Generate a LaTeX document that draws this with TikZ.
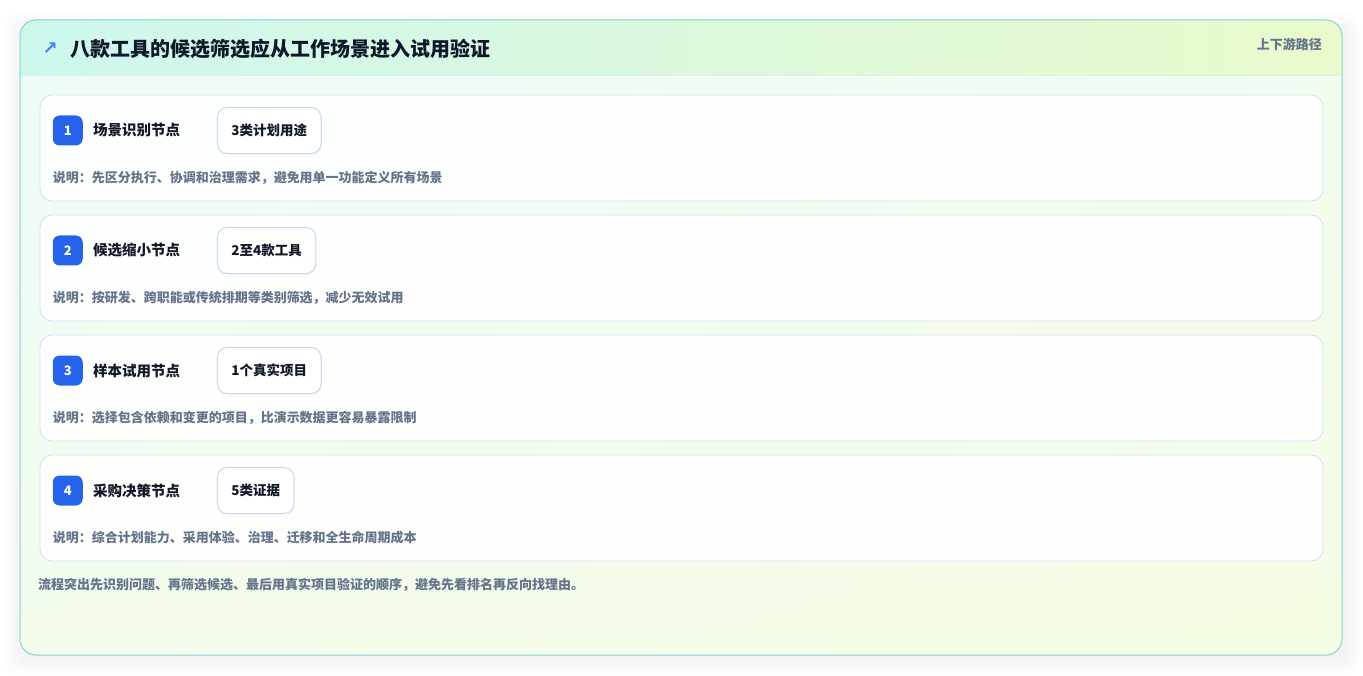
\documentclass[tikz,border=0pt]{standalone}
\usepackage{fontspec}
\setmainfont{Noto Sans CJK SC}
\newfontfamily\symfont{DejaVu Sans}
\usetikzlibrary{positioning,shadows,shadings}

\definecolor{panelline}{HTML}{7FD8CC}
\definecolor{headA}{HTML}{CDF7EE}
\definecolor{headB}{HTML}{EAFACC}
\definecolor{headline}{HTML}{D8EEF0}
\definecolor{bodyA}{HTML}{EEFBF9}
\definecolor{bodyB}{HTML}{F6FDE4}
\definecolor{cardline}{HTML}{D3E3F4}
\definecolor{pillline}{HTML}{C2D4F0}
\definecolor{badgeblue}{HTML}{2563EB}
\definecolor{arrowblue}{HTML}{3B82F6}
\definecolor{titletext}{HTML}{0F172A}
\definecolor{labeltext}{HTML}{111827}
\definecolor{desctext}{HTML}{64748B}

\begin{document}
\begin{tikzpicture}[x=1pt,y=-1pt,
  panel/.style={draw=panelline, line width=1pt, rounded corners=16pt},
  card/.style={draw=cardline, line width=0.9pt, fill=white, fill opacity=0.93, text opacity=1, rounded corners=12pt,
    minimum width=1283pt, minimum height=106pt, inner sep=0pt},
  badge/.style={fill=badgeblue, rounded corners=7pt, minimum size=30pt, inner sep=0pt,
    text=white, font=\bfseries\fontsize{13}{13}\selectfont},
  steplabel/.style={inner sep=0pt, text=labeltext, font=\bfseries\fontsize{14.5}{15}\selectfont},
  pill/.style={draw=pillline, line width=0.9pt, fill=white, rounded corners=10pt, minimum height=46pt, inner xsep=14pt,
    drop shadow={opacity=0.05, shadow xshift=0pt, shadow yshift=-3pt},
    text=labeltext, font=\bfseries\fontsize{13.5}{14}\selectfont},
  desc/.style={inner sep=0pt, anchor=west, text=desctext, font=\bfseries\fontsize{13}{14}\selectfont},
]
\useasboundingbox (0,0) rectangle (1363,676);

% soft shadow of the panel
\foreach \s in {20,17,...,2}
  \fill[black, opacity=0.006, rounded corners=18pt] (20-\s+4,20-\s+12) rectangle (1342+\s,655+\s);

% panel body and header band
\begin{scope}
  \clip[rounded corners=16pt] (20,20) rectangle (1342,655);
  \fill[white] (20,20) rectangle (1342,655);
  \shade[upper left=bodyA, upper right=bodyA!60!bodyB, lower left=bodyA!40!bodyB, lower right=bodyB]
    (20,20) rectangle (1342,655);
  \shade[left color=headA, right color=headB] (20,20) rectangle (1342,75);
  \draw[headline] (20,75) -- (1342,75);
\end{scope}
\draw[panel] (20,20) rectangle (1342,655);

% header
\node[anchor=west, inner sep=0pt, text=titletext, font=\bfseries\fontsize{20}{20}\selectfont] (title) at (70,49)
  {八款工具的候选筛选应从工作场景进入试用验证};
\node[left=12pt of title, inner sep=0pt, text=arrowblue, font=\symfont\bfseries\fontsize{18}{18}\selectfont] (icon) {↗};
\node[anchor=east, inner sep=0pt, text=desctext, font=\bfseries\fontsize{13}{13}\selectfont] (route) at (1322,44) {上下游路径};

% step 1
\node[card] (card1) at (681.5,148) {};
\node[badge, right=13pt of card1.west, yshift=17.5pt] (num1) {1};
\node[steplabel, right=10pt of num1] (lab1) {场景识别节点};
\node[pill, right=134pt of num1] (pill1) {3类计划用途};
\node[desc] (desc1) at ([yshift=-47pt]num1.west) {说明：先区分执行、协调和治理需求，避免用单一功能定义所有场景};

% step 2
\node[card] (card2) at (681.5,268) {};
\node[badge, right=13pt of card2.west, yshift=17.5pt] (num2) {2};
\node[steplabel, right=10pt of num2] (lab2) {候选缩小节点};
\node[pill, right=134pt of num2] (pill2) {2至4款工具};
\node[desc] (desc2) at ([yshift=-47pt]num2.west) {说明：按研发、跨职能或传统排期等类别筛选，减少无效试用};

% step 3
\node[card] (card3) at (681.5,388) {};
\node[badge, right=13pt of card3.west, yshift=17.5pt] (num3) {3};
\node[steplabel, right=10pt of num3] (lab3) {样本试用节点};
\node[pill, right=134pt of num3] (pill3) {1个真实项目};
\node[desc] (desc3) at ([yshift=-47pt]num3.west) {说明：选择包含依赖和变更的项目，比演示数据更容易暴露限制};

% step 4
\node[card] (card4) at (681.5,508) {};
\node[badge, right=13pt of card4.west, yshift=17.5pt] (num4) {4};
\node[steplabel, right=10pt of num4] (lab4) {采购决策节点};
\node[pill, right=134pt of num4] (pill4) {5类证据};
\node[desc] (desc4) at ([yshift=-47pt]num4.west) {说明：综合计划能力、采用体验、治理、迁移和全生命周期成本};

% closing note
\node[desc] (note) at (38,585) {流程突出先识别问题、再筛选候选、最后用真实项目验证的顺序，避免先看排名再反向找理由。};
\end{tikzpicture}
\end{document}
